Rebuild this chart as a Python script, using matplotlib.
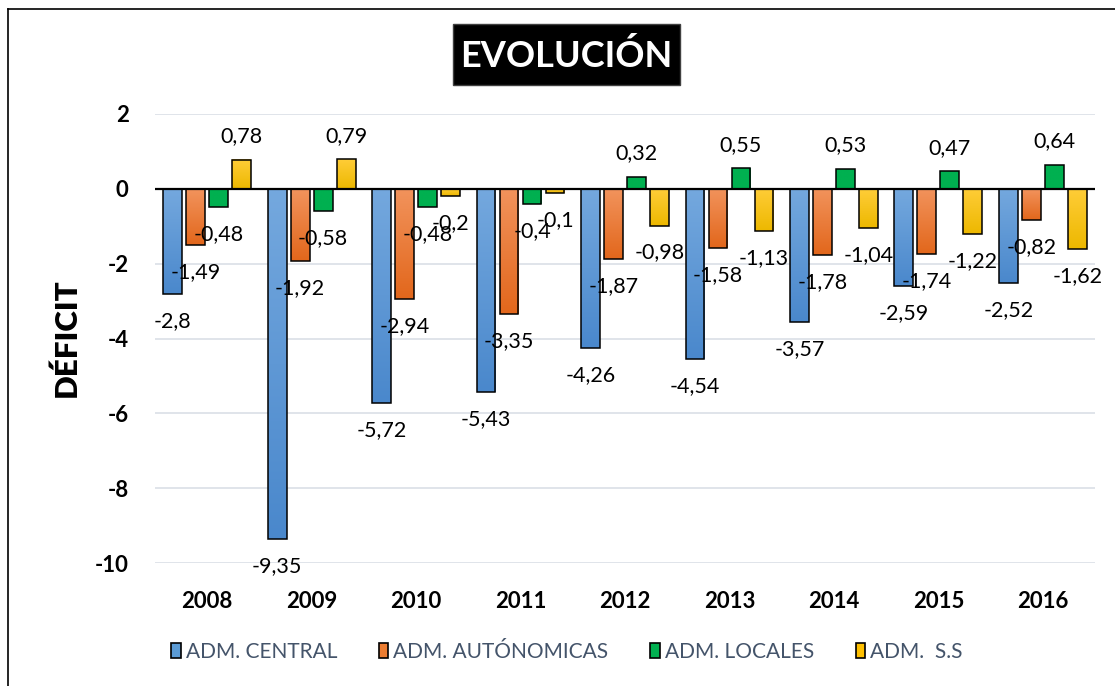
import matplotlib
matplotlib.use("Agg")
import matplotlib.pyplot as plt
import numpy as np
from matplotlib.lines import Line2D
from matplotlib.patches import Rectangle, Patch
from matplotlib.colors import to_rgb

plt.rcParams['font.family'] = ['Lato', 'DejaVu Sans']

years = ["2008", "2009", "2010", "2011", "2012", "2013", "2014", "2015", "2016"]
series_names = ["ADM. CENTRAL", "ADM. AUTÓNOMICAS", "ADM. LOCALES", "ADM.  S.S"]
central = [-2.8, -9.35, -5.72, -5.43, -4.26, -4.54, -3.57, -2.59, -2.52]
autonomicas = [-1.49, -1.92, -2.94, -3.35, -1.87, -1.58, -1.78, -1.74, -0.82]
locales = [-0.48, -0.58, -0.48, -0.4, 0.32, 0.55, 0.53, 0.47, 0.64]
ss = [0.78, 0.79, -0.2, -0.1, -0.98, -1.13, -1.04, -1.22, -1.62]
yticks = [2, 0, -2, -4, -6, -8, -10]
ytick_labels = ["2", "0", "-2", "-4", "-6", "-8", "-10"]

series = [central, autonomicas, locales, ss]
grad = [("#74A8DE", "#4A88CC"), ("#F2935C", "#E2671C"),
        ("#00B050", "#00B050"), ("#FFCD38", "#EDB800")]
legend_colors = ["#5B9BD5", "#ED7D31", "#00B050", "#FFC000"]

fig = plt.figure(figsize=(11.15, 6.86), dpi=100)
ax = fig.add_axes([155/1115, 1-563/686, 940/1115, 449/686])

x = np.arange(len(years))
width = 0.18
offsets = [-0.33, -0.11, 0.11, 0.33]

for k, (vals, (c1, c2)) in enumerate(zip(series, grad)):
    bars = ax.bar(x + offsets[k], vals, width, facecolor='none',
                  edgecolor='black', linewidth=1.1, zorder=3)
    g = np.linspace(0, 1, 64)[:, None, None]
    a = np.array(to_rgb(c1))[None, None, :]
    b = np.array(to_rgb(c2))[None, None, :]
    img = a * (1 - g) + b * g
    for bar, v in zip(bars, vals):
        l = bar.get_x()
        r = l + bar.get_width()
        top = max(0, v)
        bot = min(0, v)
        ax.imshow(img, extent=[l, r, bot, top], aspect='auto', origin='upper',
                  zorder=2.5, interpolation='bilinear')
        lab = str(v).replace('.', ',')
        dy = 17 if v >= 0 else -19.5
        ax.annotate(lab, (bar.get_x() + bar.get_width()/2, v),
                    xytext=(0, dy), textcoords='offset points',
                    ha='center', va='center', fontsize=15.5, color='black', zorder=5)

ax.set_xlim(-0.5, len(years) - 0.5)
ax.set_ylim(-10, 2)
ax.set_yticks(yticks)
ax.set_yticklabels(ytick_labels, fontsize=16, fontweight='bold')
ax.set_xticks(x)
ax.set_xticklabels(years, fontsize=16, fontweight='bold')
ax.tick_params(axis='both', length=0)
ax.tick_params(axis='y', pad=19)
ax.tick_params(axis='x', pad=20)
for s in ax.spines.values():
    s.set_visible(False)
for t in yticks:
    if t != 0:
        ax.axhline(t, color='#DDE2E8', linewidth=1.3, zorder=1)
ax.axhline(0, color='black', linewidth=1.6, zorder=4)

fig.text(66/1115, 1-338/686, "DÉFICIT", rotation=90, fontsize=22.5,
         fontweight='heavy', ha='center', va='center')

# title box
fig.patches.append(Rectangle((453/1115, 1-85/686), 227/1115, 61/686,
                             transform=fig.transFigure, facecolor='black',
                             edgecolor='#404040', linewidth=1, zorder=1))
fig.text(566/1115, 1-56/686, "EVOLUCIÓN", color='white', fontsize=26,
         fontweight='bold', ha='center', va='center', zorder=2)

handles = [Patch(facecolor=c, edgecolor='black', linewidth=1.2) for c in legend_colors]
leg = fig.legend(handles, series_names, loc='center',
                 bbox_to_anchor=(567/1115, 1-652/686), ncol=4, frameon=False,
                 fontsize=15, handlelength=0.45, handleheight=0.7,
                 handletextpad=0.25, columnspacing=2.0)
for t in leg.get_texts():
    t.set_color('#44546A')

# figure border
fig.add_artist(Line2D([8/1115, 8/1115], [-0.05, 1-9/686], transform=fig.transFigure,
                      color='black', linewidth=1.2))
fig.add_artist(Line2D([8/1115, 1.05], [1-9/686, 1-9/686], transform=fig.transFigure,
                      color='black', linewidth=1.2))

fig.savefig("out.png", dpi=100)
